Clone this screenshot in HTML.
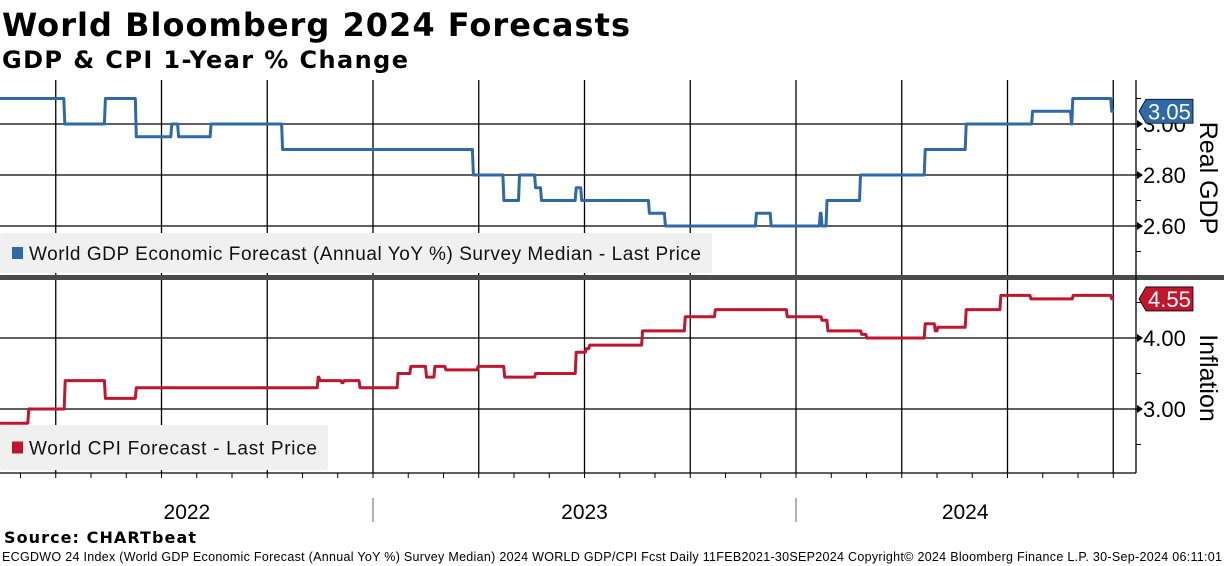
<!DOCTYPE html>
<html><head><meta charset="utf-8"><style>
html,body{margin:0;padding:0;background:#fff;width:1224px;height:566px;overflow:hidden}
svg{display:block}
</style></head><body>
<svg id="chart" width="1224" height="566" xmlns="http://www.w3.org/2000/svg">
<text x="2" y="36" font-family="DejaVu Sans, sans-serif" font-weight="bold" font-size="32" textLength="628">World Bloomberg 2024 Forecasts</text>
<text x="2" y="68" font-family="DejaVu Sans, sans-serif" font-weight="bold" font-size="24" textLength="406">GDP &amp; CPI 1-Year % Change</text>
<g id="grid"></g>
<g id="series"></g>
<g id="axes"></g>
<text x="4" y="543" font-family="DejaVu Sans, sans-serif" font-weight="bold" font-size="16" textLength="192">Source: CHARTbeat</text>
<text x="2" y="561" font-family="Liberation Sans, sans-serif" font-size="12.5" textLength="1220">ECGDWO 24 Index (World GDP Economic Forecast (Annual YoY %) Survey Median) 2024 WORLD GDP/CPI Fcst  Daily 11FEB2021-30SEP2024   Copyright© 2024 Bloomberg Finance L.P.   30-Sep-2024 06:11:01</text>
</svg>
<script>
const gdpDates=[2022.118,2022.269,2022.365,2022.438,2022.522,2022.538,2022.615,2022.784,2023.235,2023.307,2023.344,2023.382,2023.396,2023.478,2023.491,2023.651,2023.689,2023.904,2023.939,2024.055,2024.059,2024.071,2024.150,2024.303,2024.400,2024.557,2024.649,2024.652,2024.744];
const gdpValues=[3.10,3.00,3.10,2.95,3.00,2.95,3.00,2.90,2.80,2.70,2.80,2.75,2.70,2.75,2.70,2.65,2.60,2.65,2.60,2.65,2.60,2.70,2.80,2.90,3.00,3.05,3.00,3.10,3.05];
const cpiDates=[2022.118,2022.184,2022.270,2022.365,2022.438,2022.868,2022.872,2022.924,2022.929,2022.967,2023.057,2023.087,2023.124,2023.144,2023.170,2023.246,2023.309,2023.382,2023.478,2023.502,2023.510,2023.635,2023.736,2023.807,2023.977,2024.059,2024.073,2024.153,2024.165,2024.303,2024.327,2024.333,2024.400,2024.482,2024.553,2024.653,2024.744];
const cpiValues=[2.80,3.00,3.40,3.15,3.30,3.45,3.40,3.37,3.40,3.30,3.50,3.60,3.45,3.60,3.55,3.60,3.45,3.50,3.80,3.85,3.90,4.10,4.30,4.40,4.30,4.25,4.10,4.05,4.00,4.20,4.10,4.15,4.40,4.60,4.55,4.60,4.55];
const endDate=2024.752;
const gdpTicks=[3.00,2.80,2.60];
const gdpMinor=[3.10,2.90,2.70,2.50];
const cpiTicks=[4.00,3.00];
const cpiMinor=[4.50,3.50,2.50];
const yearLabels=["2022","2023","2024"];
const yearCenters=[2022.56,2023.50,2024.40];
const gdpLast=3.05, cpiLast=4.55;

const NS="http://www.w3.org/2000/svg";
const X=y=>373+(y-2023)*423;
const YG=v=>124-(v-3.0)*255;
const YC=v=>338-(v-4.0)*71;
const AX=1136;
function mk(tag,attrs,parent){const e=document.createElementNS(NS,tag);for(const k in attrs)e.setAttribute(k,attrs[k]);parent.appendChild(e);return e;}
const grid=document.getElementById('grid'),ser=document.getElementById('series'),axes=document.getElementById('axes');

for(let q=2022.25;q<=2024.76;q+=0.25){
  const l1=mk('line',{x1:X(q),x2:X(q),y1:80,y2:276,stroke:'#000','stroke-width':1.3},grid);
  
  const l2=mk('line',{x1:X(q),x2:X(q),y1:280,y2:473,stroke:'#000','stroke-width':1.3},grid);
  
}
gdpTicks.forEach(v=>{const l=mk('line',{x1:0,x2:AX,y1:YG(v),y2:YG(v),stroke:'#000','stroke-width':1.3},grid);
  });
cpiTicks.forEach(v=>{const l=mk('line',{x1:0,x2:AX,y1:YC(v),y2:YC(v),stroke:'#000','stroke-width':1.3},grid);
  });

function legend(x,y,w,h,color,label,tl,name){
  const g=mk('g',{},grid);
  mk('rect',{x:x,y:y,width:w,height:h,fill:'#f0f0f0',rx:3},g);
  mk('rect',{x:12,y:y+h/2-6,width:11,height:12,fill:color},g);
  const t=mk('text',{x:29,y:y+h/2+7,'font-family':'Liberation Sans, sans-serif','font-size':19,fill:'#111',textLength:tl},g);t.textContent=label;
}
legend(0,233,712,40,'#2e6aa8','World GDP Economic Forecast (Annual YoY %) Survey Median - Last Price',672,'gdp-legend');
legend(0,425,328,45,'#c0162f','World CPI Forecast - Last Price',288,'cpi-legend');

function stepPath(dates,vals,ys){
  let d='M'+X(dates[0]).toFixed(1)+','+ys(vals[0]).toFixed(1);
  for(let i=1;i<dates.length;i++){d+=' L'+X(dates[i]).toFixed(1)+','+ys(vals[i-1]).toFixed(1)+' L'+(X(dates[i])+1).toFixed(1)+','+ys(vals[i]).toFixed(1);}
  d+=' L'+X(endDate).toFixed(1)+','+ys(vals[vals.length-1]).toFixed(1);return d;
}
const gp=mk('path',{d:stepPath(gdpDates,gdpValues,YG),fill:'none',stroke:'#2e6aa8','stroke-width':3,'stroke-linejoin':'round'},ser);

const cp=mk('path',{d:stepPath(cpiDates,cpiValues,YC),fill:'none',stroke:'#c0162f','stroke-width':3,'stroke-linejoin':'round'},ser);


const dv=mk('rect',{x:0,y:275,width:1224,height:5,fill:'#4a4a4a'},axes);

const ra=mk('line',{x1:AX,x2:AX,y1:80,y2:473,stroke:'#000','stroke-width':1.3},axes);

const ba=mk('line',{x1:0,x2:AX,y1:473,y2:473,stroke:'#000','stroke-width':1.3},axes);

function ylabel(v,ys,name){
  const y=ys(v);
  mk('line',{x1:AX,x2:AX+5,y1:y,y2:y,stroke:'#000','stroke-width':1.3},axes);
  mk('path',{d:`M${AX+1},${y-4} L${AX+7},${y} L${AX+1},${y+4}Z`,fill:'#000'},axes);
  const t=mk('text',{x:AX+7,y:y+8,'font-family':'Liberation Sans, sans-serif','font-size':22,fill:'#000'},axes);
  t.textContent=v.toFixed(2);
}
gdpTicks.forEach(v=>ylabel(v,YG,'gdp-tick-label'));
cpiTicks.forEach(v=>ylabel(v,YC,'cpi-tick-label'));
gdpMinor.forEach(v=>mk('line',{x1:AX,x2:AX+5,y1:YG(v),y2:YG(v),stroke:'#000'},axes));
cpiMinor.forEach(v=>mk('line',{x1:AX,x2:AX+5,y1:YC(v),y2:YC(v),stroke:'#000'},axes));
function tag(v,ys,color,name){
  const y=ys(v);const g=mk('g',{},axes);
  mk('path',{d:`M${AX+3},${y} L${AX+10},${y-12} L${AX+57},${y-12} L${AX+57},${y+12} L${AX+10},${y+12}Z`,fill:color,stroke:'#000','stroke-width':0.8},g);
  const t=mk('text',{x:AX+12,y:y+8,'font-family':'Liberation Sans, sans-serif','font-size':22,fill:'#fff'},g);t.textContent=v.toFixed(2);
}
tag(gdpLast,YG,'#2e6aa8','gdp-last-value-tag');
tag(cpiLast,YC,'#c0162f','cpi-last-value-tag');
function atitle(txt,y,name){const t=mk('text',{x:1200,y:y,'font-family':'Liberation Sans, sans-serif','font-size':25,fill:'#000','text-anchor':'middle',transform:`rotate(90 1200 ${y})`},axes);
  t.textContent=txt;}
atitle('Real GDP',178,'gdp-axis-title');
atitle('Inflation',378,'cpi-axis-title');
for(let m=0;m<=33;m++){const yr=2022+1/6+m/12; if(yr>2024.76)break; const x=X(yr);
  mk('line',{x1:x,x2:x,y1:473,y2:478,stroke:'#000'},axes);}
[2023,2024].forEach(yv=>{const l=mk('line',{x1:X(yv),x2:X(yv),y1:498,y2:522,stroke:'#888','stroke-width':1.3},axes);
  });
yearLabels.forEach((s,i)=>{const t=mk('text',{x:X(yearCenters[i]),y:519,'font-family':'Liberation Sans, sans-serif','font-size':21,'text-anchor':'middle',fill:'#000'},axes);
  t.textContent=s;});
</script>
</body></html>
